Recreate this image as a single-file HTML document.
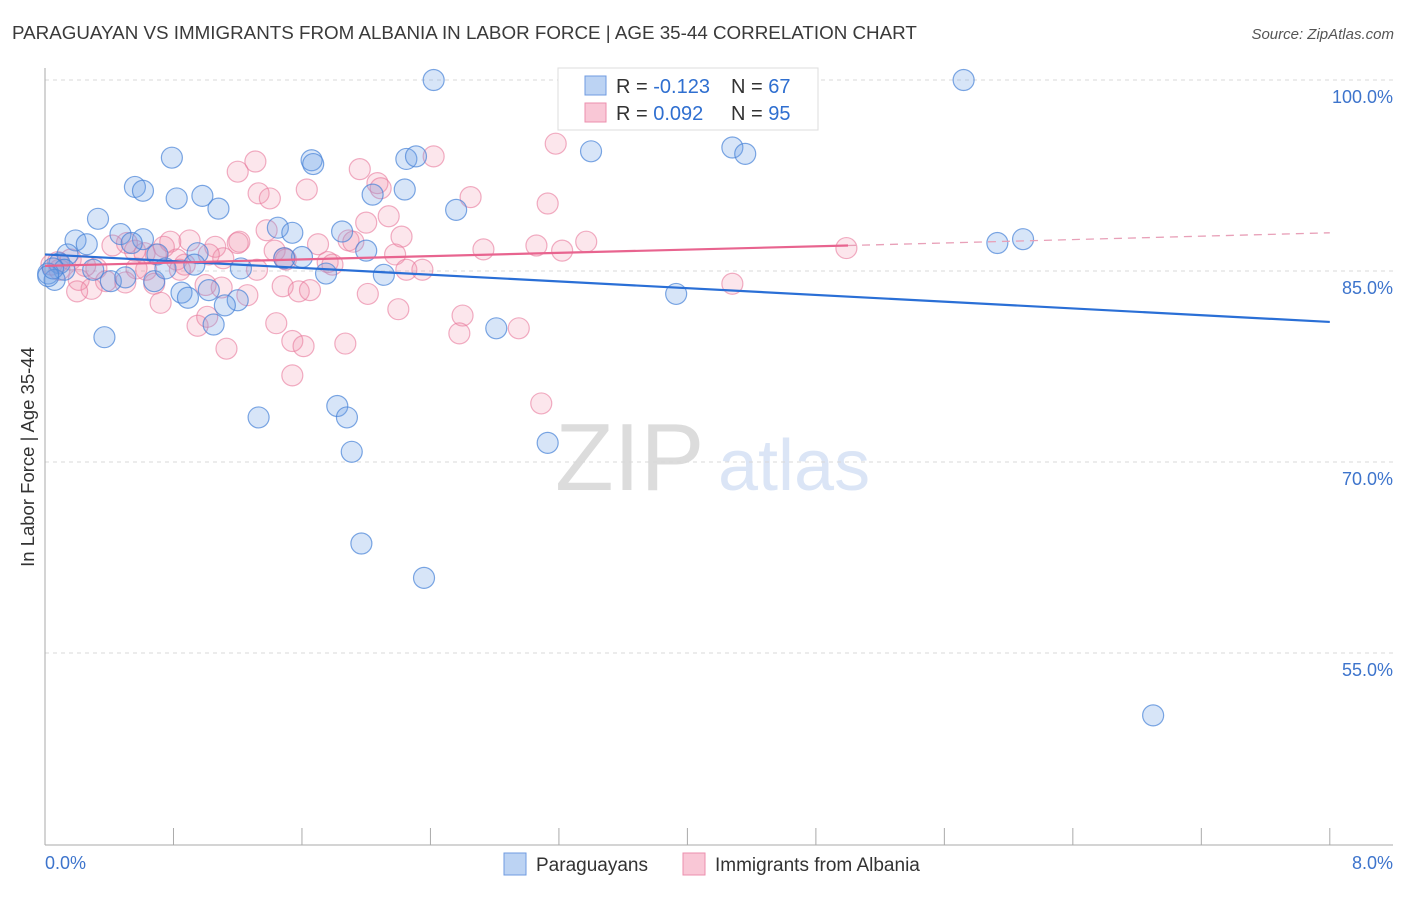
<!DOCTYPE html>
<html><head><meta charset="utf-8"><style>
body{margin:0;background:#fff;font-family:"Liberation Sans",sans-serif}
svg text{font-family:"Liberation Sans",sans-serif}
</style></head><body>
<svg id="chart" width="1406" height="892" xmlns="http://www.w3.org/2000/svg">
<text x="12" y="39" font-size="18.8" fill="#3a3a3a">PARAGUAYAN VS IMMIGRANTS FROM ALBANIA IN LABOR FORCE | AGE 35-44 CORRELATION CHART</text>
<text x="1394" y="39" font-size="15" fill="#555" font-style="italic" text-anchor="end">Source: ZipAtlas.com</text>
<g opacity="0.5">
<text x="555" y="490" font-size="96" fill="#bbb" font-family="Liberation Serif">ZIP</text>
<text x="718" y="490" font-size="72" fill="#b8cdee">atlas</text>
</g>
<g id="grid"></g>
<g id="axes"></g>
<g id="marks"></g>
<text transform="translate(34,457) rotate(-90)" font-size="18.5" fill="#333" text-anchor="middle">In Labor Force | Age 35-44</text>
<g>
<rect x="558" y="68" width="260" height="62" fill="#fff" stroke="#ddd"/>
<rect x="585" y="76" width="21" height="19" fill="#bcd3f3" stroke="#6f9be0"/>
<rect x="585" y="103" width="21" height="19" fill="#f9c7d6" stroke="#ec8fae"/>
<text x="616" y="93" font-size="20" fill="#333">R = <tspan fill="#2f6fd0">-0.123</tspan></text>
<text x="731" y="93" font-size="20" fill="#333">N = <tspan fill="#2f6fd0">67</tspan></text>
<text x="616" y="120" font-size="20" fill="#333">R = <tspan fill="#2f6fd0"> 0.092</tspan></text>
<text x="731" y="120" font-size="20" fill="#333">N = <tspan fill="#2f6fd0">95</tspan></text>
</g>
<g>
<rect x="504" y="853" width="22" height="22" fill="#bcd3f3" stroke="#6f9be0"/>
<text x="536" y="871" font-size="19" fill="#333">Paraguayans</text>
<rect x="683" y="853" width="22" height="22" fill="#f9c7d6" stroke="#ec8fae"/>
<text x="715" y="871" font-size="19" fill="#333">Immigrants from Albania</text>
</g>
</svg>
<script>
const blueX=[2.42,5.72,0.79,1.66,1.67,3.40,4.28,4.36,2.25,2.31,0.56,0.61,0.82,0.98,1.08,2.24,2.04,2.56,0.33,1.45,1.54,1.85,0.47,0.61,0.19,0.26,0.54,0.14,0.70,0.95,1.60,1.49,2.00,5.93,6.09,0.09,0.12,0.30,0.02,0.06,0.41,0.50,0.68,0.75,0.93,1.22,1.75,2.11,0.85,0.89,1.02,1.20,1.12,1.05,3.93,2.81,0.37,1.33,1.82,1.88,3.13,1.91,1.97,2.36,6.90,0.02,0.05];
const blueY=[100.0,100.0,93.9,93.7,93.4,94.4,94.7,94.2,93.8,94.0,91.6,91.3,90.7,90.9,89.9,91.4,91.0,89.8,89.1,88.4,88.0,88.1,87.9,87.5,87.4,87.1,87.2,86.3,86.3,86.4,86.1,86.0,86.6,87.2,87.5,85.6,85.1,85.1,84.8,84.3,84.2,84.5,84.2,85.2,85.5,85.2,84.8,84.7,83.3,82.9,83.5,82.7,82.3,80.8,83.2,80.5,79.8,73.5,74.4,73.5,71.5,70.8,63.6,60.9,50.1,84.6,85.2];
const pinkX=[3.18,2.42,1.31,1.20,1.96,1.63,1.33,1.40,2.07,2.09,2.65,3.13,2.14,2.00,1.38,2.22,1.89,1.92,1.70,1.20,1.21,1.06,0.90,0.78,0.74,0.51,0.42,0.56,0.62,0.69,2.73,3.06,3.22,3.37,4.99,1.43,1.49,1.50,1.76,1.79,2.18,0.82,0.87,1.11,1.02,0.63,0.57,1.32,2.25,2.35,0.84,0.32,0.21,0.38,0.50,0.29,0.20,0.68,1.00,1.10,1.26,1.48,1.58,1.65,2.01,0.72,2.20,2.60,0.95,1.01,1.44,2.58,2.95,1.54,1.61,1.87,1.13,1.54,3.09,4.28,0.09,0.04,0.08,0.16,0.25];
const pinkY=[95.0,94.0,93.6,92.8,93.0,91.4,91.1,90.7,91.9,91.5,90.8,90.3,89.3,88.8,88.2,87.7,87.4,87.3,87.1,87.2,87.3,86.9,87.4,87.3,86.9,87.2,87.0,86.6,86.4,86.3,86.7,87.0,86.6,87.3,86.8,86.6,86.0,85.9,85.7,85.5,86.3,85.9,85.5,86.0,86.3,85.1,85.2,85.1,85.1,85.1,85.1,85.2,84.3,84.2,84.1,83.6,83.4,84.0,83.9,83.7,83.1,83.8,83.4,83.5,83.2,82.5,82.0,81.5,80.7,81.4,80.9,80.1,80.5,79.5,79.1,79.3,78.9,76.8,74.6,84.0,85.1,85.5,85.7,85.9,85.4];
const yTicks=[100,85,70,55];
const yTickLabels=["100.0%","85.0%","70.0%","55.0%"];
const xTicks=[0,0.8,1.6,2.4,3.2,4,4.8,5.6,6.4,7.2,8];
const blueTrend=[[0,86.3],[8,81.0]];
const pinkTrendSolid=[[0,85.4],[5,87.0]];
const pinkTrendDash=[[5,87.0],[8,88.0]];

const NS="http://www.w3.org/2000/svg";
const sx=v=>45+v*160.6;
const sy=v=>80+(100-v)*12.733;
function mk(tag,attrs,parent){const e=document.createElementNS(NS,tag);for(const k in attrs)e.setAttribute(k,attrs[k]);parent.appendChild(e);return e;}
const grid=document.getElementById('grid'),axes=document.getElementById('axes'),marks=document.getElementById('marks');
yTicks.forEach((t,i)=>{
  const l=mk('line',{x1:45,x2:1393,y1:sy(t),y2:sy(t),stroke:'#d8d8d8','stroke-dasharray':'4,4'},grid);
  
  
  const tx=mk('text',{x:1393,y:sy(t)+23,'font-size':18,fill:'#3d74cc','text-anchor':'end'},axes);
  tx.textContent=yTickLabels[i];
  
  
});
const ya=mk('line',{x1:45,x2:45,y1:68,y2:845,stroke:'#aaa'},axes);


const xa=mk('line',{x1:45,x2:1393,y1:845,y2:845,stroke:'#aaa'},axes);


xTicks.forEach(t=>{
  const l=mk('line',{x1:sx(t),x2:sx(t),y1:828,y2:845,stroke:'#aaa'},axes);
  
  
});
const xl0=mk('text',{x:45,y:869,'font-size':18,fill:'#3d74cc'},axes);xl0.textContent='0.0%';


const xl1=mk('text',{x:1393,y:869,'font-size':18,fill:'#3d74cc','text-anchor':'end'},axes);xl1.textContent='8.0%';



pinkX.forEach((x,i)=>{
  const c=mk('circle',{cx:sx(x),cy:sy(pinkY[i]),r:10.5,fill:'rgba(240,140,170,0.22)',stroke:'rgba(232,120,155,0.6)','stroke-width':1.2},marks);
  
  
});
blueX.forEach((x,i)=>{
  const c=mk('circle',{cx:sx(x),cy:sy(blueY[i]),r:10.5,fill:'rgba(110,160,230,0.28)',stroke:'rgba(70,130,215,0.7)','stroke-width':1.2},marks);
  
  
});
function ln(p,attrs,name){const l=mk('line',Object.assign({x1:sx(p[0][0]),y1:sy(p[0][1]),x2:sx(p[1][0]),y2:sy(p[1][1])},attrs),marks);}
ln(blueTrend,{stroke:'#2a6fd6','stroke-width':2.2},'paraguayan-trend-line');
ln(pinkTrendSolid,{stroke:'#e8648f','stroke-width':2.2},'albania-trend-line');
ln(pinkTrendDash,{stroke:'#e8a0b8','stroke-width':1.3,'stroke-dasharray':'8,6'},'albania-trend-extension');
</script>
</body></html>
